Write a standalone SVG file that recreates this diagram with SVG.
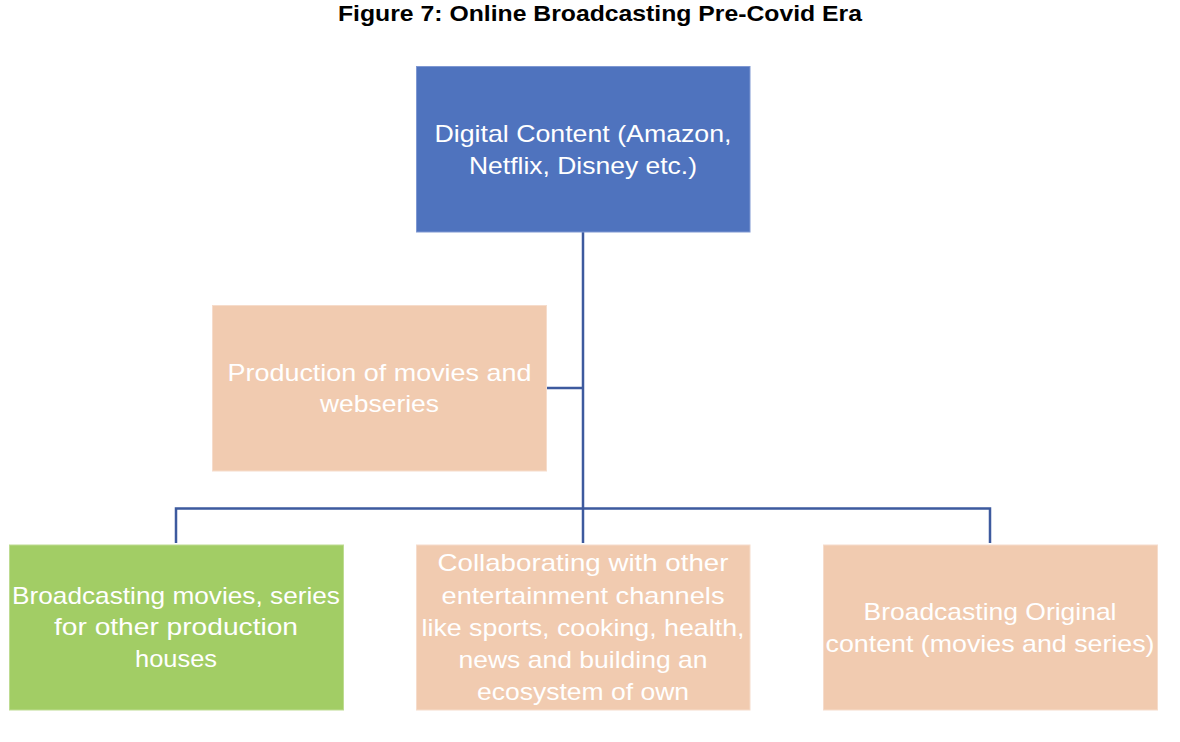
<svg xmlns="http://www.w3.org/2000/svg" width="1180" height="742" viewBox="0 0 1180 742">
<style>
.t{font-family:"Liberation Sans",Arial,sans-serif;font-size:24px;fill:#ffffff;text-anchor:middle}
.title{font-family:"Liberation Sans",Arial,sans-serif;font-size:22px;font-weight:bold;fill:#000000;text-anchor:middle}
.blue{fill:#4F73BE;stroke:#7F98D2;stroke-width:1}
.peach{fill:#F1CBB0;stroke:#F6DCCB;stroke-width:1}
.green{fill:#A2CD65;stroke:#BEDC92;stroke-width:1}
.conn{fill:none;stroke:#3D5A9E;stroke-width:2.5}
</style>
<rect width="1180" height="742" fill="#ffffff"/>
<text class="title" x="600" y="21" textLength="524" lengthAdjust="spacingAndGlyphs">Figure 7: Online Broadcasting Pre-Covid Era</text>
<g id="connectors">
<path class="conn" d="M583 232 V543"/>
<path class="conn" d="M547 388 H583"/>
<path class="conn" d="M176 543 V508.5 H990 V543"/>
</g>
<g id="digital">
<rect class="blue" x="416.5" y="66.5" width="333.5" height="165.5"/>
<text class="t" x="583" y="142" textLength="297" lengthAdjust="spacingAndGlyphs">Digital Content (Amazon,</text>
<text class="t" x="583" y="173.5" textLength="228" lengthAdjust="spacingAndGlyphs">Netflix, Disney etc.)</text>
</g>
<g id="production">
<rect class="peach" x="212.5" y="305.5" width="334" height="165.5"/>
<text class="t" x="379.5" y="381" textLength="304" lengthAdjust="spacingAndGlyphs">Production of movies and</text>
<text class="t" x="379.5" y="412" textLength="119" lengthAdjust="spacingAndGlyphs">webseries</text>
</g>
<g id="broadcasting-other">
<rect class="green" x="9.5" y="545" width="334" height="165"/>
<text class="t" x="176" y="603.5" textLength="328" lengthAdjust="spacingAndGlyphs">Broadcasting movies, series</text>
<text class="t" x="176" y="635" textLength="244" lengthAdjust="spacingAndGlyphs">for other production</text>
<text class="t" x="176" y="667" textLength="82" lengthAdjust="spacingAndGlyphs">houses</text>
</g>
<g id="collaborating">
<rect class="peach" x="416.5" y="545" width="333.5" height="165"/>
<text class="t" x="583" y="571" textLength="291" lengthAdjust="spacingAndGlyphs">Collaborating with other</text>
<text class="t" x="583" y="603.5" textLength="283" lengthAdjust="spacingAndGlyphs">entertainment channels</text>
<text class="t" x="583" y="636" textLength="323" lengthAdjust="spacingAndGlyphs">like sports, cooking, health,</text>
<text class="t" x="583" y="667.5" textLength="249" lengthAdjust="spacingAndGlyphs">news and building an</text>
<text class="t" x="583" y="700" textLength="212" lengthAdjust="spacingAndGlyphs">ecosystem of own</text>
</g>
<g id="original">
<rect class="peach" x="823.5" y="545" width="334" height="165"/>
<text class="t" x="990" y="619.5" textLength="253" lengthAdjust="spacingAndGlyphs">Broadcasting Original</text>
<text class="t" x="990" y="652" textLength="329" lengthAdjust="spacingAndGlyphs">content (movies and series)</text>
</g>
</svg>
